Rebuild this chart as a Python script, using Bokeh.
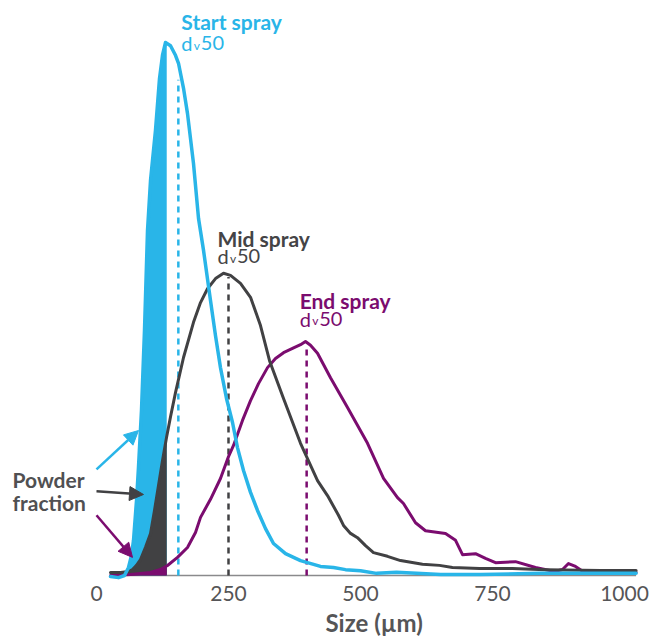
import numpy as np
from bokeh.plotting import figure
from bokeh.models import Range1d, FixedTicker, ColumnDataSource, Arrow, NormalHead, Title
from bokeh.core.properties import value
from bokeh.embed import file_html
from bokeh.resources import INLINE

# ---------------- data ----------------
series_names = ["Start spray", "Mid spray", "End spray"]

start_x = [26.5, 41.7, 53.0, 60.6, 66.3, 70.1, 75.8, 79.5, 85.2, 90.9, 96.6, 102.3,
           111.7, 119.3, 125.0, 130.7, 140.2, 149.6, 155.3, 164.8, 172.3, 183.7, 193.2,
           202.7, 215.9, 225.4, 234.8, 246.2, 257.6, 267.0, 278.4, 291.7, 304.9, 320.1,
           335.2, 358.0, 386.4, 424.2, 448.9, 471.6, 500.0, 530.3, 568.2, 606.1, 651.5,
           727.3, 840.9, 916.7, 1022.0]
start_y = [-0.2, -0.4, 0.0, 1.5, 3.75, 6.6, 14.1, 20.3, 31.0, 46.0, 64.7, 74.1,
           83.5, 93.2, 97.6, 100.0, 99.4, 97.6, 96.1, 91.4, 86.7, 77.3, 67.0,
           61.0, 51.6, 45.0, 39.0, 33.2, 28.7, 24.0, 19.7, 15.6, 12.2, 8.8,
           6.0, 4.1, 2.8, 1.7, 1.5, 1.1, 0.9, 0.4, 0.6, 0.4, 0.2,
           0.2, 0.4, 0.4, 0.4]

mid_x = [26.5, 45.5, 60.6, 68.2, 75.8, 83.3, 92.8, 102.3, 109.8, 117.4, 125.0, 132.6,
         140.2, 149.6, 164.8, 183.7, 197.0, 210.2, 225.4, 240.5, 253.8, 272.7, 291.7,
         310.6, 327.7, 354.2, 386.4, 418.6, 437.5, 458.3, 467.8, 481.1, 494.3, 509.5,
         524.6, 551.1, 575.8, 617.4, 649.6, 674.2, 725.4, 787.9, 850.4, 954.5, 1022.0]
mid_y = [0.56, 0.56, 0.75, 1.1, 1.9, 3.0, 5.3, 7.9, 12.2, 16.9, 21.6, 25.9,
         29.8, 34.3, 40.9, 47.5, 51.2, 53.8, 55.7, 56.7, 56.3, 54.8, 52.2,
         46.9, 40.3, 33.2, 24.8, 17.8, 15.0, 11.3, 9.4, 7.9, 7.1, 5.6,
         4.3, 3.6, 2.8, 2.1, 1.9, 1.5, 1.3, 1.3, 1.1, 0.94, 0.94]

end_x = [26.5, 64.4, 102.3, 121.2, 134.5, 153.4, 172.3, 187.5, 197.0, 215.9, 234.8,
         250.0, 259.5, 276.5, 291.7, 306.8, 323.9, 339.0, 354.2, 371.2, 386.4, 395.8,
         405.3, 418.6, 443.2, 475.4, 513.3, 543.6, 570.1, 581.4, 604.2, 623.1, 661.0,
         680.0, 693.2, 717.8, 736.7, 755.7, 793.6, 831.4, 867.4, 882.6, 893.9, 907.2,
         918.6, 962.1, 1022.0]
end_y = [0.0, 0.19, 0.56, 1.13, 1.88, 3.4, 5.25, 8.07, 10.9, 14.3, 18.2,
         22.3, 24.4, 29.1, 32.8, 36.0, 39.0, 40.7, 41.8, 42.6, 43.3, 43.9,
         43.2, 41.7, 37.1, 31.5, 24.8, 18.2, 14.6, 13.5, 9.9, 8.4, 7.9,
         6.6, 3.9, 4.1, 3.2, 2.4, 2.6, 1.5, 0.75, 1.13, 2.25, 1.69,
         0.94, 0.38, 0.56]

dv50_x = [155, 250, 398]
dv50_top = [93, 56, 43]
powder_cut = 133

x_ticks = [0, 250, 500, 750, 1000]
x_label = "Size (µm)"
powder_label = ["Powder", "fraction"]

arrow_tail_x = [0, 0, 0]
arrow_tail_y = [19.9, 15.8, 11.3]
arrow_tip_x = [79.5, 89.0, 68.2]
arrow_tip_y = [27.2, 15.2, 3.4]

# ---------------- styling ----------------
CYAN = "#29b5e8"
DARK = "#414143"
PURPLE = "#7b0c6f"
GREY_TXT = "#555557"
colors = [CYAN, DARK, PURPLE]
title_colors = [CYAN, "#444446", PURPLE]
FONT = "Lato"

curves = [(start_x, start_y), (mid_x, mid_y), (end_x, end_y)]

p = figure(frame_width=640, frame_height=570,
           x_range=Range1d(-166.67, 1045.45), y_range=Range1d(-0.938, 106.0),
           output_backend="svg", toolbar_location=None,
           min_border_left=8, min_border_right=4, min_border_top=10, min_border_bottom=0)
p.yaxis.visible = False
p.grid.visible = False
p.outline_line_color = None
p.background_fill_color = "white"

ax = p.xaxis[0]
ax.ticker = FixedTicker(ticks=x_ticks)
ax.axis_line_color = None
ax.major_tick_line_color = None
ax.minor_tick_line_color = None
ax.major_tick_out = 0
ax.major_tick_in = 0
ax.major_label_text_font = FONT
ax.major_label_text_font_size = "21px"
ax.major_label_text_color = GREY_TXT
ax.major_label_standoff = 5

p.add_layout(Title(text=x_label, align="left", offset=317, standoff=4,
                   text_font=FONT, text_font_style="bold", text_font_size="24px",
                   text_color=GREY_TXT), "below")

# baseline
all_x = start_x + mid_x + end_x
p.segment(x0=[min(all_x)], y0=[0], x1=[max(all_x)], y1=[0], line_color="#8a8a8c", line_width=1.5)

# powder fraction fills
for (xs, ys), c in zip(curves, colors):
    xs = np.array(xs); ys = np.array(ys)
    m = xs <= powder_cut
    fx = np.append(xs[m], powder_cut)
    fy = np.append(ys[m], np.interp(powder_cut, xs, ys))
    fy = np.clip(fy, 0, None)
    p.varea(x=fx, y1=np.zeros_like(fy), y2=fy, fill_color=c)

# dv50 dashed lines
for xv, top, c in zip(dv50_x, dv50_top, colors):
    p.line(x=[xv, xv], y=[0, top], line_color=c, line_width=2.5, line_dash="6 5")

# curves
for (xs, ys), c, w in [(curves[2], PURPLE, 3.0), (curves[1], DARK, 3.0), (curves[0], CYAN, 3.5)]:
    p.line(x=xs, y=ys, line_color=c, line_width=w, line_join="round", line_cap="round")

# labels
peaks = [max(ys) for _, ys in curves]
title_off = [(3, -21), (-11, -35), (-7, -41)]
sub_off = [(3, 1), (-11, -17), (-7, -23)]
src_t = ColumnDataSource(dict(x=dv50_x, y=peaks, text=series_names, color=title_colors,
                              xo=[o[0] for o in title_off], yo=[o[1] for o in title_off]))
p.text(x="x", y="y", text="text", source=src_t, text_color="color", x_offset="xo", y_offset="yo",
       text_font=value(FONT), text_font_style="bold", text_font_size="21px",
       text_align="left", text_baseline="alphabetic")

for piece, dx, dy, size in [("d", 0, 0, "20px"), ("v", 12.5, 2, "12px"), ("50", 19.5, 0, "20px")]:
    src_s = ColumnDataSource(dict(x=dv50_x, y=peaks, text=[piece] * 3, color=title_colors,
                                  xo=[o[0] + dx for o in sub_off], yo=[o[1] + dy for o in sub_off]))
    p.text(x="x", y="y", text="text", source=src_s, text_color="color", x_offset="xo", y_offset="yo",
           text_font=value(FONT), text_font_size=size, text_align="left", text_baseline="alphabetic")

# powder fraction label and arrows
p.text(x=[-159.1, -159.1], y=[18.0, 13.7], text=powder_label, text_color="#505052",
       text_font=value(FONT), text_font_style="bold", text_font_size="21px",
       text_align="left", text_baseline="alphabetic")

for x0, y0, x1, y1, c in zip(arrow_tail_x, arrow_tail_y, arrow_tip_x, arrow_tip_y, colors):
    p.add_layout(Arrow(end=NormalHead(size=14, fill_color=c, line_color=c, line_width=1),
                       x_start=x0, y_start=y0, x_end=x1, y_end=y1,
                       line_color=c, line_width=2.5))

open("out.html", "w").write(file_html(p, INLINE))
